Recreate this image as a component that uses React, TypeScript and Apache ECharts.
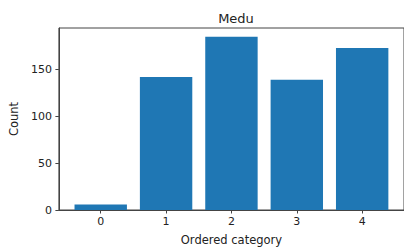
import React, { useEffect, useRef } from "react";
import * as echarts from "echarts";

const categories = [0, 1, 2, 3, 4];
const counts = [6, 142, 185, 139, 173];
const yTicks = [0, 50, 100, 150];
const titleText = "Medu";
const xLabel = "Ordered category";
const yLabel = "Count";

export default function App() {
  const ref = useRef<HTMLDivElement>(null);
  useEffect(() => {
    if (!ref.current) return;
    const chart = echarts.init(ref.current, null, { renderer: "svg" });
    const font = "DejaVu Sans";
    const maxCount = Math.max(...counts);
    chart.setOption({
      animation: false,
      backgroundColor: "#fff",
      textStyle: { fontFamily: font },
      title: {
        text: titleText,
        left: 231,
        top: 7,
        textAlign: "center",
        textStyle: { fontFamily: font, fontSize: 13, fontWeight: "normal", color: "#222" },
      },
      grid: {
        left: 58,
        top: 28,
        width: 346,
        height: 184,
        show: true,
        borderColor: "#444",
        borderWidth: 1,
        backgroundColor: "transparent",
      },
      xAxis: {
        type: "value",
        min: -0.64,
        max: categories.length - 1 + 0.64,
        splitLine: { show: false },
        axisLine: { show: true, onZero: false, lineStyle: { color: "#444", width: 1 } },
        axisTick: { show: true, length: 3.5, lineStyle: { color: "#444" }, customValues: categories },
        axisLabel: {
          customValues: categories,
          fontFamily: font,
          fontSize: 11,
          color: "#222",
          margin: 6,
        },
        name: xLabel,
        nameLocation: "middle",
        nameGap: 24,
        nameTextStyle: { fontFamily: font, fontSize: 11.5, color: "#222" },
      },
      yAxis: {
        type: "value",
        min: 0,
        max: maxCount * 1.05,
        splitLine: { show: false },
        axisLine: { show: true, onZero: false, lineStyle: { color: "#444", width: 1 } },
        axisTick: { show: true, length: 3.5, lineStyle: { color: "#444" }, customValues: yTicks },
        axisLabel: {
          customValues: yTicks,
          fontFamily: font,
          fontSize: 11,
          color: "#222",
          margin: 7,
        },
        name: yLabel,
        nameLocation: "middle",
        nameGap: 38,
        nameTextStyle: { fontFamily: font, fontSize: 11.5, color: "#222" },
      },
      series: [
        {
          type: "bar",
          data: categories.map((c, i) => [c, counts[i]]),
          barWidth: 52.4,
          itemStyle: { color: "#1f77b4" },
        },
      ],
    });
    return () => chart.dispose();
  }, []);
  return (
    <div
      ref={ref}
      style={{ position: "fixed", left: 0, top: 0, width: 404, height: 251 }}
    />
  );
}
